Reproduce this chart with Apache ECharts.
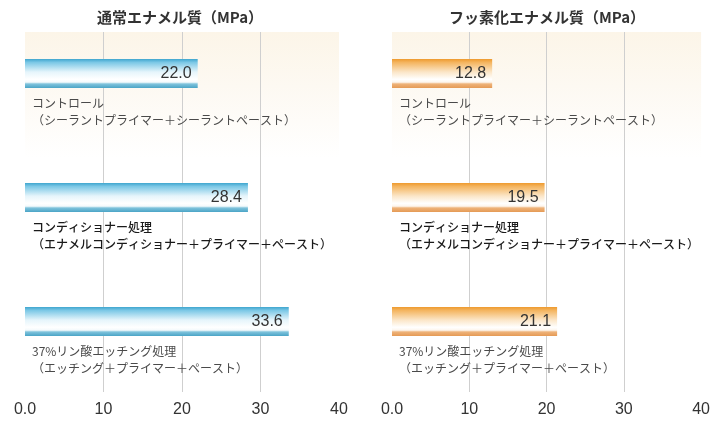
<!DOCTYPE html>
<html>
<head>
<meta charset="utf-8">
<script src="https://cdn.jsdelivr.net/npm/echarts@6/dist/echarts.min.js"></script>
<style>html,body{margin:0;padding:0;background:#fff}#c{width:713px;height:421px}</style>
</head>
<body>
<div id="c"></div>
<script>
const titles = ['通常エナメル質（MPa）', 'フッ素化エナメル質（MPa）'];
const categories = [
  'コントロール\n（シーラントプライマー＋シーラントペースト）',
  'コンディショナー処理\n（エナメルコンディショナー＋プライマー＋ペースト）',
  '37%リン酸エッチング処理\n（エッチング＋プライマー＋ペースト）'
];
const normalEnamel = [22.0, 28.4, 33.6];
const fluoroEnamel = [12.8, 19.5, 21.1];
const tickLabels = ['0.0', '10', '20', '30', '40'];

const FONT = '"Noto Sans CJK JP", "Noto Sans", sans-serif';
const NUMFONT = '"Liberation Sans", Arial, sans-serif';
const panels = [
  {left: 25, width: 314, titleX: 180, data: normalEnamel,
   grad: [[0,'#3fa6cf'],[0.12,'#7cc8e6'],[0.45,'#e6f5fb'],[0.7,'#ffffff'],[0.8,'#f4fafc'],[0.86,'#7fc3dc'],[1,'#4aa4c6']]},
  {left: 392, width: 313, titleX: 547, data: fluoroEnamel,
   grad: [[0,'#ee9a2e'],[0.12,'#f4b560'],[0.45,'#fbe6c8'],[0.7,'#ffffff'],[0.8,'#fdf6ee'],[0.86,'#eeb37a'],[1,'#e59a55']]}
];

const grid = [], xAxis = [], yAxis = [], series = [], graphic = [];
panels.forEach((p, i) => {
  grid.push({left: p.left, width: p.width, top: 32, height: 360, show: true, borderWidth: 0,
    backgroundColor: {type:'linear', x:0, y:0, x2:0, y2:1,
      colorStops:[{offset:0,color:'#fcf5e8'},{offset:0.15,color:'#fdf9f2'},{offset:0.35,color:'#ffffff'},{offset:1,color:'#ffffff'}]}});
  grid.push({left: p.left, width: p.width, top: 11.5, height: 372});
  xAxis.push({type:'value', gridIndex: 2*i, min:0, max:40, interval:10,
    axisLine:{show:false}, axisTick:{show:false},
    splitLine:{show:true, lineStyle:{color:['rgba(0,0,0,0)','#cfcfcf','#cfcfcf','#cfcfcf','rgba(0,0,0,0)'], width:1}},
    axisLabel:{margin:10, fontSize:16, color:'#333', fontFamily: NUMFONT,
      formatter: v => tickLabels[Math.round(v/10)]}});
  xAxis.push({type:'value', gridIndex: 2*i+1, min:0, max:40, interval:10, show:false});
  yAxis.push({type:'value', gridIndex: 2*i, show:false});
  yAxis.push({type:'category', gridIndex: 2*i+1, inverse:true, data: categories,
    axisLine:{show:false}, axisTick:{show:false}, splitLine:{show:false},
    axisLabel:{inside:true, margin:7, verticalAlign:'top', align:'left', padding:[21,0,0,0],
      formatter: (v, idx) => v.split('\n').map(s => (idx === 1 ? '{b|' : '{a|') + s + '}').join('\n'),
      rich:{
        a:{fontSize:12, lineHeight:17, color:'#4a4a4a', fontFamily: FONT},
        b:{fontSize:12, lineHeight:17, color:'#1a1a1a', fontWeight:500, fontFamily: FONT}
      }}});
  series.push({type:'bar', xAxisIndex: 2*i+1, yAxisIndex: 2*i+1, data: p.data, barWidth: 29,
    itemStyle:{color:{type:'linear', x:0, y:0, x2:0, y2:1,
      colorStops: p.grad.map(s => ({offset:s[0], color:s[1]}))}},
    label:{show:true, position:'insideRight', distance:6, fontSize:16, color:'#333', fontFamily: NUMFONT,
      formatter: d => d.value.toFixed(1)},
    silent:true, animation:false});
  graphic.push({type:'text', x: p.titleX, y: 17, style:{text: titles[i], align:'center', verticalAlign:'middle',
    font: 'bold 15px ' + FONT, fill:'#333'}});
});

const chart = echarts.init(document.getElementById('c'), null, {renderer:'canvas'});
chart.setOption({animation:false, grid, xAxis, yAxis, series, graphic});
</script>
</body>
</html>
